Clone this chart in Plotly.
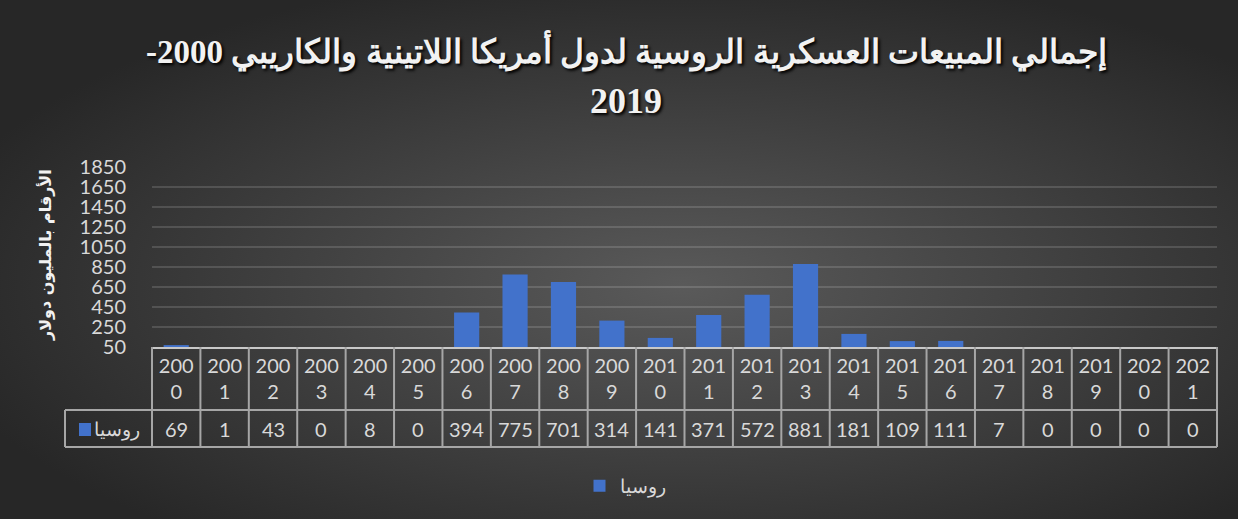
import base64
import plotly.graph_objects as go

# ---------------- data ----------------
years = ["2000", "2001", "2002", "2003", "2004", "2005", "2006", "2007", "2008", "2009", "2010",
         "2011", "2012", "2013", "2014", "2015", "2016", "2017", "2018", "2019", "2020", "2021"]
russia = [69, 1, 43, 0, 8, 0, 394, 775, 701, 314, 141, 371, 572, 881, 181, 109, 111, 7, 0, 0, 0, 0]
y_ticks = [50, 250, 450, 650, 850, 1050, 1250, 1450, 1650, 1850]
series_name = "روسيا"
title_line1 = "إجمالي المبيعات العسكرية الروسية لدول أمريكا اللاتينية والكاريبي 2000-"
title_line2 = "2019"
y_title = "الأرقام بالمليون دولار"

# ---------------- geometry ----------------
W, H = 1247, 525
L, R, T, B = 152, 30, 167, 178
PW, PH = W - L - R, H - T - B


def px_x(p):
    return (p - L) / PW


def px_y(p):
    return (H - B - p) / PH


BAR = "#4272cb"
TXT = "#d9d9d9"
GRID = "rgba(255,255,255,0.14)"
TABLE = "#a6a6a6"
NUM_FONT = "Lato, 'Noto Sans', sans-serif"

# background radial gradient
svg = f"""<svg xmlns='http://www.w3.org/2000/svg' width='1238' height='519' viewBox='0 0 1238 519' preserveAspectRatio='none'>
<defs><radialGradient id='g' cx='55%' cy='55%' r='62%'>
<stop offset='0%' stop-color='#5a5a5a'/><stop offset='100%' stop-color='#272727'/>
</radialGradient></defs><rect width='1238' height='519' fill='url(#g)'/></svg>"""
bg_src = "data:image/svg+xml;base64," + base64.b64encode(svg.encode()).decode()

fig = go.Figure()
fig.add_trace(go.Bar(
    x=years, y=russia, name=series_name,
    marker=dict(color=BAR, line=dict(width=0)),
    showlegend=True,
))

ticktext = [y[:3] + "<br>" + y[3:] for y in years]

fig.update_layout(
    width=W, height=H,
    margin=dict(l=L, r=R, t=T, b=B, autoexpand=False),
    paper_bgcolor="#ffffff",
    plot_bgcolor="rgba(0,0,0,0)",
    bargap=0.48,
    images=[dict(source=bg_src, xref="paper", yref="paper",
                 x=px_x(0), y=px_y(0), sizex=1238 / PW, sizey=519 / PH,
                 sizing="stretch", xanchor="left", yanchor="top", layer="below")],
    legend=dict(orientation="h", x=px_x(625), y=px_y(486), xanchor="center", yanchor="middle",
                font=dict(family=NUM_FONT, size=19, color=TXT), bgcolor="rgba(0,0,0,0)"),
    xaxis=dict(type="category", range=[-0.5, len(years) - 0.5],
               tickmode="array", tickvals=years, ticktext=ticktext,
               tickfont=dict(family=NUM_FONT, size=20, color=TXT),
               showgrid=False, ticks="", showline=True, linecolor="#c8c8c8", linewidth=2,
               zeroline=False),
    yaxis=dict(range=[50, 1850], tickmode="array", tickvals=y_ticks,
               tickfont=dict(family=NUM_FONT, size=20, color=TXT),
               showgrid=True, gridcolor=GRID, gridwidth=2, zeroline=False,
               ticks="", ticklabelstandoff=25, showline=False),
)

annotations = [
    dict(text=title_line1 + "\u200f", xref="paper", yref="paper", x=px_x(626), y=px_y(50),
         xanchor="center", yanchor="middle", showarrow=False,
         font=dict(family="'Liberation Serif', 'DejaVu Serif', serif", size=33, color="#f2f2f2",
                   weight="bold", shadow="2px 2px 3px #000")),
    dict(text=title_line2, xref="paper", yref="paper", x=px_x(626), y=px_y(101),
         xanchor="center", yanchor="middle", showarrow=False,
         font=dict(family="'Liberation Serif', serif", size=36, color="#f2f2f2",
                   weight="bold", shadow="2px 2px 3px #000")),
    dict(text=y_title, xref="paper", yref="paper", x=px_x(45), y=px_y(255),
         xanchor="center", yanchor="middle", showarrow=False, textangle=-90,
         font=dict(family="'DejaVu Sans', sans-serif", size=16, color="#f2f2f2", weight="bold")),
    dict(text=series_name, xref="paper", yref="paper", x=px_x(117), y=px_y(429),
         xanchor="center", yanchor="middle", showarrow=False,
         font=dict(family=NUM_FONT, size=19, color=TXT)),
]
for i, v in enumerate(russia):
    annotations.append(dict(text=str(v), xref="x", yref="paper", x=i, y=px_y(429),
                            xanchor="center", yanchor="middle", showarrow=False,
                            font=dict(family=NUM_FONT, size=20, color=TXT)))
fig.update_layout(annotations=annotations)

shapes = []
n = len(years)
row_mid = px_y(410)
row_bot = px_y(447)
left_edge = px_x(65)
for i in range(n + 1):
    shapes.append(dict(type="line", xref="paper", yref="paper", x0=i / n, x1=i / n,
                       y0=0, y1=row_bot, line=dict(color=TABLE, width=2)))
for yy in (row_mid, row_bot):
    shapes.append(dict(type="line", xref="paper", yref="paper", x0=left_edge, x1=1,
                       y0=yy, y1=yy, line=dict(color=TABLE, width=2)))
shapes.append(dict(type="line", xref="paper", yref="paper", x0=left_edge, x1=left_edge,
                   y0=row_mid, y1=row_bot, line=dict(color=TABLE, width=2)))
shapes.append(dict(type="rect", xref="paper", yref="paper", x0=px_x(79), x1=px_x(91),
                   y0=px_y(423), y1=px_y(436), fillcolor=BAR, line=dict(width=0)))
fig.update_layout(shapes=shapes)

fig.write_html("out.html", config={"displayModeBar": False},
               post_script="document.body.style.margin='0';")
